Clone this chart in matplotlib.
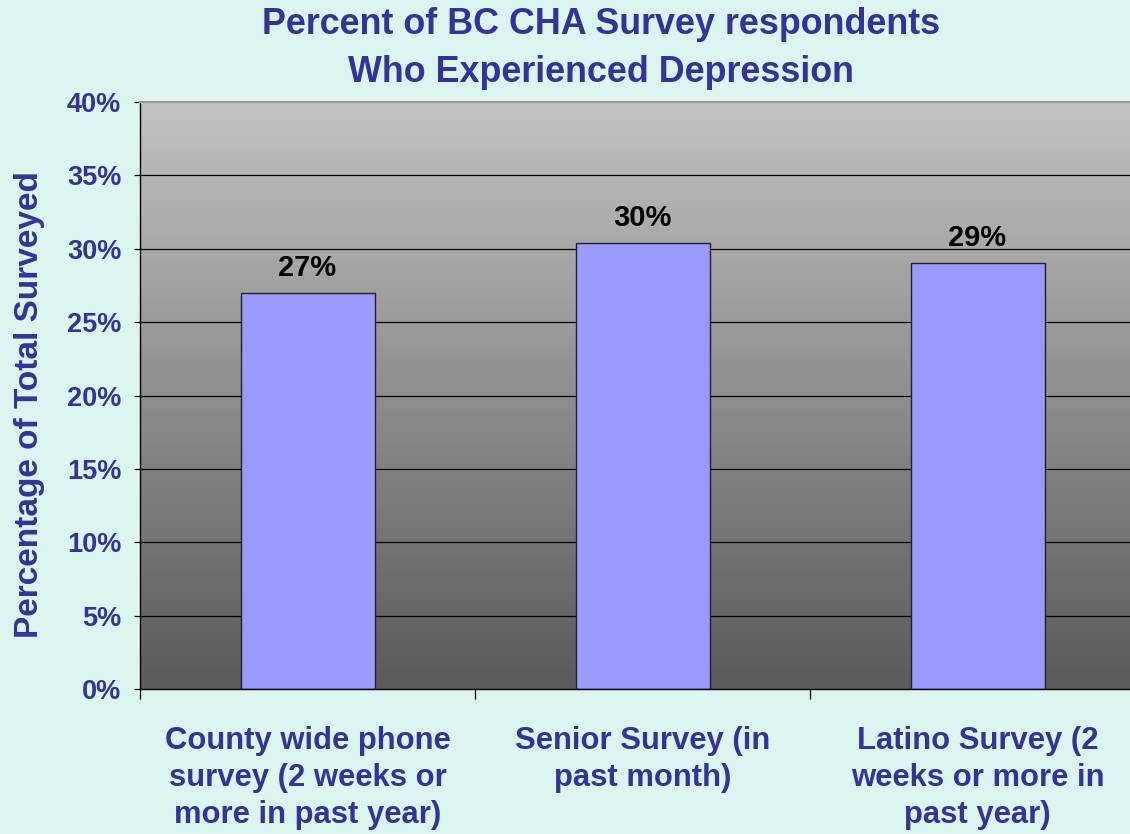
import matplotlib
matplotlib.use("Agg")
import matplotlib.pyplot as plt
import numpy as np

plt.rcParams["font.family"] = ["Liberation Sans", "DejaVu Sans"]
plt.rcParams["font.weight"] = "bold"

# survey groups and share reporting depression (%)
categories = [
    "County wide phone\nsurvey (2 weeks or\nmore in past year)",
    "Senior Survey (in\npast month)",
    "Latino Survey (2\nweeks or more in\npast year)",
]
values = [27.0, 30.4, 29.0]
y_ticks = [0, 5, 10, 15, 20, 25, 30, 35, 40]

NAVY = "#333399"
BG = "#ddf5f1"
BAR = "#9999ff"

W, H = 1130, 834
fig = plt.figure(figsize=(W / 100, H / 100), dpi=100, facecolor=BG)
ax = fig.add_axes([140 / W, 145 / H, 990 / W, 587 / H])

x = np.arange(len(categories))
ax.set_xlim(-0.5, -0.5 + 990 / 335)
ax.set_ylim(0, 40)

# vertical grey gradient behind the plot
grad = np.linspace(0, 1, 256).reshape(-1, 1)
ax.imshow(grad, cmap=matplotlib.colors.LinearSegmentedColormap.from_list(
    "bg", ["#5a5a5a", "#c2c2c2"]), aspect="auto", origin="lower",
    extent=[0, 1, 0, 1], transform=ax.transAxes, zorder=0)

for yt in y_ticks[1:-1]:
    ax.axhline(yt, color="black", lw=0.9, zorder=1)

bars = ax.bar(x, values, width=0.4, color=BAR, edgecolor="#222222",
              linewidth=1.0, zorder=2)
for b, v in zip(bars, values):
    ax.annotate(f"{v:.0f}%", xy=(b.get_x() + b.get_width() / 2, v),
                xytext=(0, 8), textcoords="offset points",
                ha="center", va="bottom", fontsize=21,
                fontweight="bold", color="black")

ax.set_yticks(y_ticks)
ax.set_yticklabels([f"{t}%" for t in y_ticks])
ax.tick_params(axis="y", direction="out", length=4.5, width=0.9,
               pad=9, labelsize=19.5, labelcolor=NAVY, color="black")

ax.set_xticks(x)
ax.set_xticklabels(categories, fontsize=22.3, color=NAVY, linespacing=1.3)
ax.tick_params(axis="x", which="major", length=0, pad=27)
ax.set_xticks(np.arange(len(categories)) - 0.5, minor=True)
ax.tick_params(axis="x", which="minor", direction="out", length=7,
               width=0.9, color="black")

for side in ["left", "bottom"]:
    ax.spines[side].set_color("black")
    ax.spines[side].set_linewidth(1.0)
ax.spines["top"].set_color("#999999")
ax.spines["top"].set_linewidth(1.5)
ax.spines["right"].set_visible(False)

fig.text(601 / W, 1 - 7 / H,
         "Percent of BC CHA Survey respondents\nWho Experienced Depression",
         ha="center", va="top", fontsize=25.8, fontweight="bold",
         color=NAVY, linespacing=1.5)
fig.text(30 / W, 1 - 405 / H, "Percentage of Total Surveyed",
         rotation=90, ha="center", va="center", fontsize=24,
         fontweight="bold", color=NAVY)

fig.savefig("out.png", dpi=100, facecolor=BG)
